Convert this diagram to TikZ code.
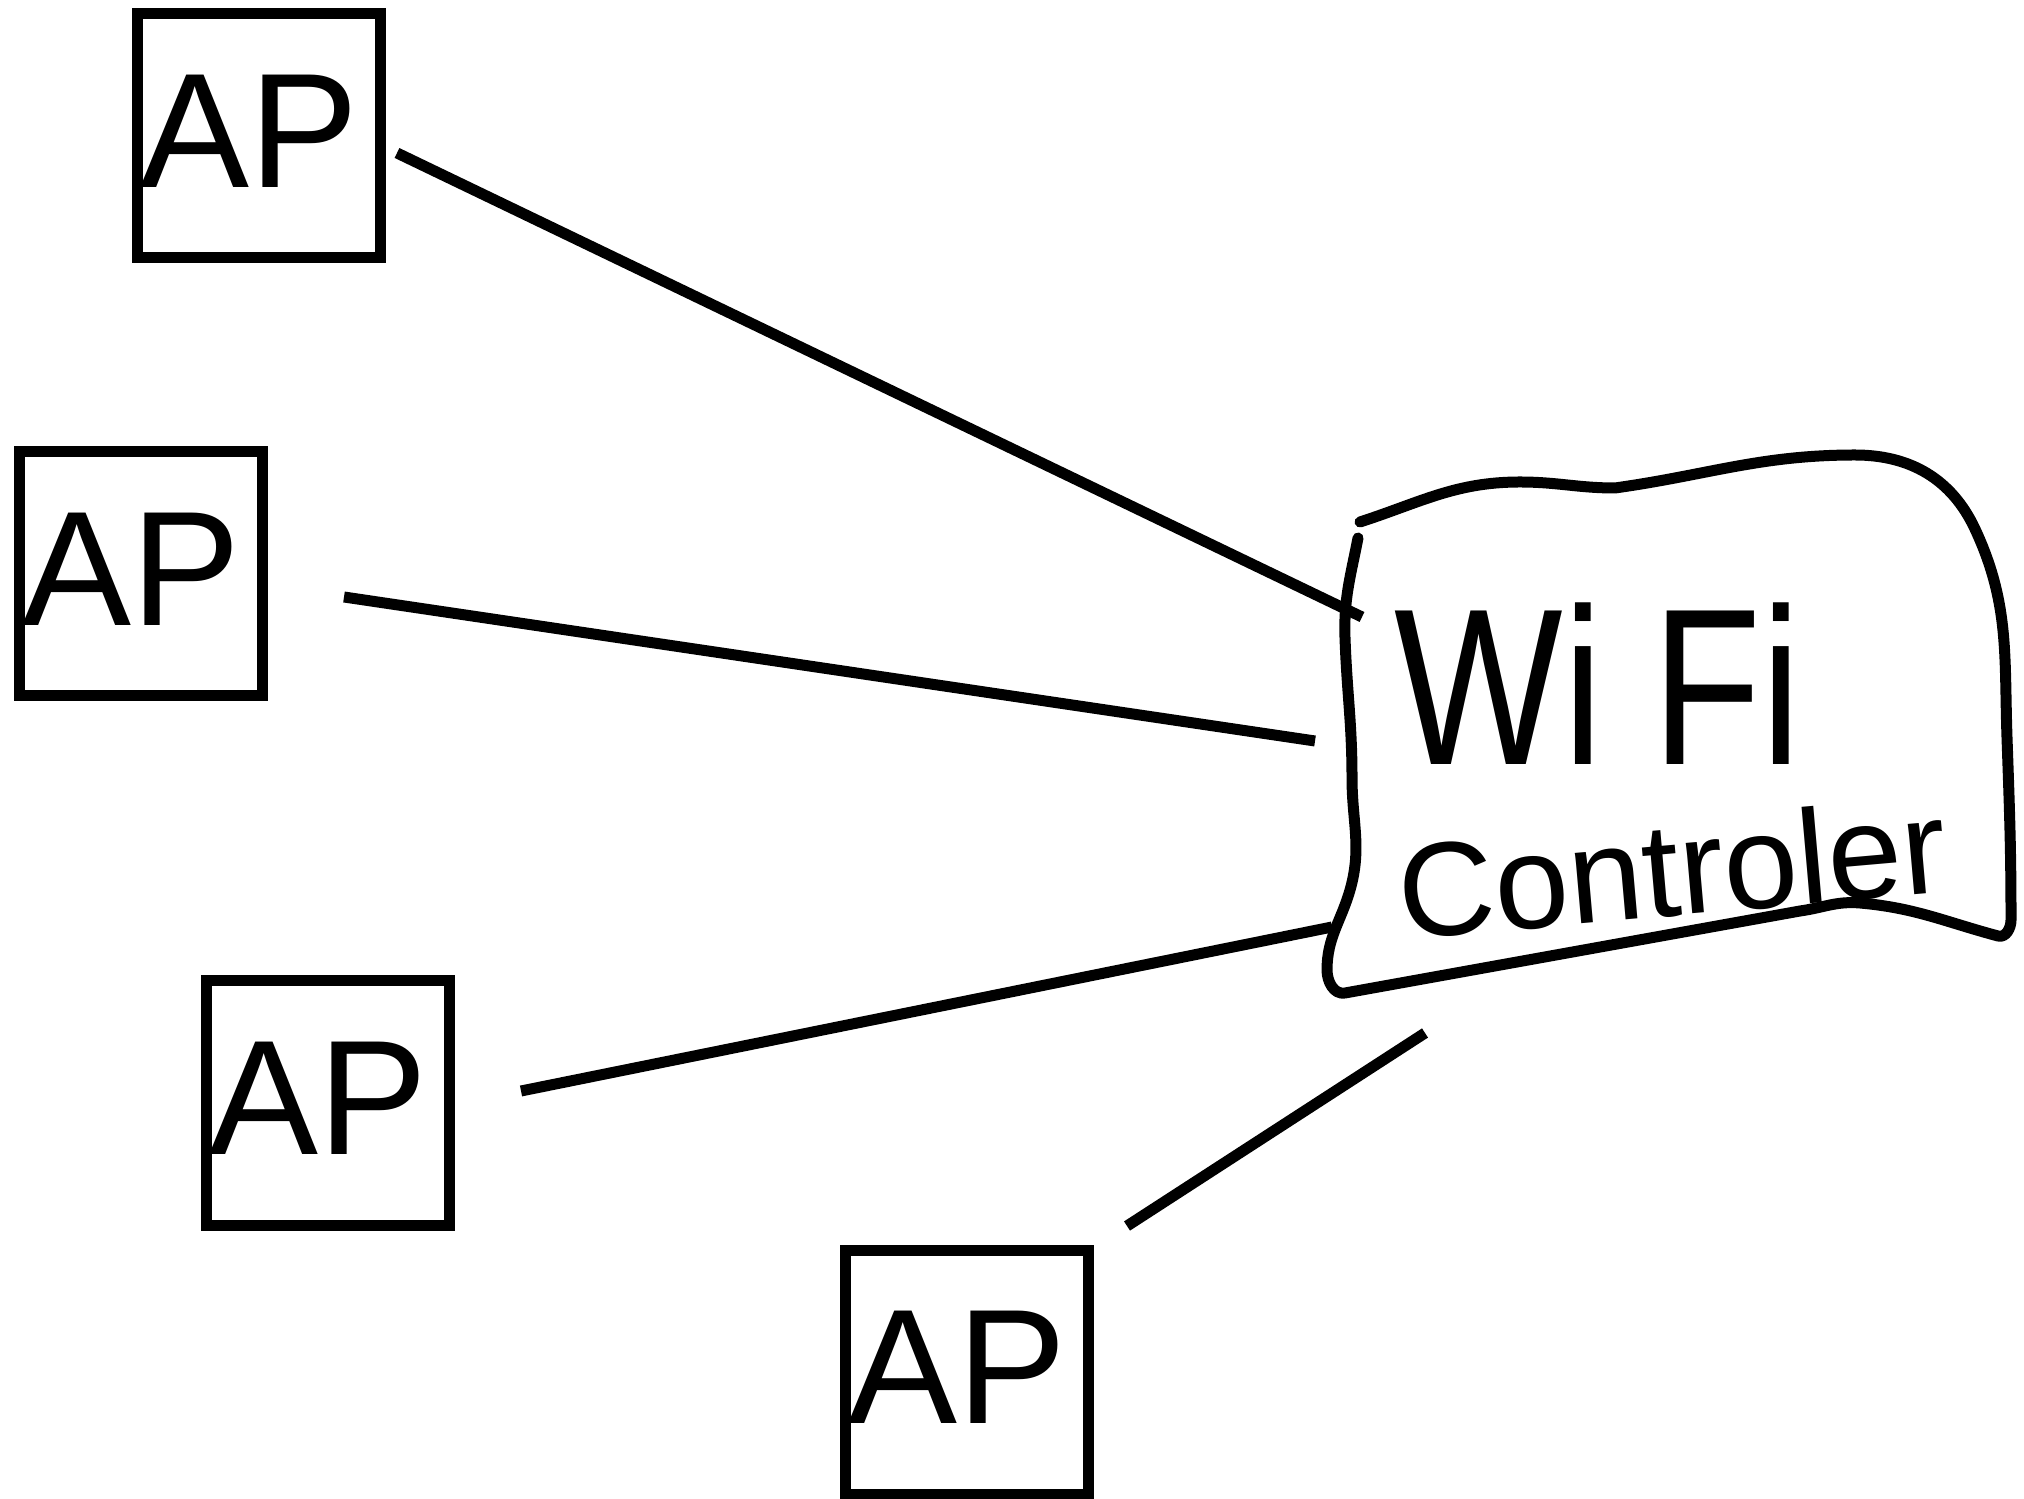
\documentclass[tikz,border=0pt]{standalone}
\usepackage{fontspec}
\setmainfont{Liberation Sans}
\usepackage{graphicx}
\begin{document}
\begin{tikzpicture}[line width=0.11cm,]
\tikzstyle{apbox} = [draw, rectangle, minimum width=2.43cm, minimum height=2.44cm, inner sep=0pt, text depth=0.1cm, execute at end node={\hspace*{0.19cm}}, font=\fontsize{46.5}{50}\selectfont]
\tikzstyle{link} = [draw, line cap=butt]
\tikzstyle{hand} = [inner sep=0pt]
%
\useasboundingbox (0,0) rectangle (20.24,14.98);
\node[apbox] (ap1) at (2.59,13.62) {AP};
\node[apbox] (ap2) at (1.41,9.24) {AP};
\node[apbox] (ap3) at (3.28,3.95) {AP};
\node[apbox] (ap4) at (9.665,1.255) {AP};
% controller
\draw[line cap=round, line join=round] (13.60,9.76) to[out=18,in=180] (15.20,10.16)
  to[out=0,in=180] (16.15,10.10) to[out=8,in=180] (18.55,10.43)
  to[out=0,in=115] (19.75,9.69) to[out=-65,in=92] (20.07,7.6)
  to[out=-88,in=90] (20.11,5.78) to[out=-90,in=-15] (19.98,5.62)
  to[out=165,in=-5] (18.6,5.95) to[out=175,in=8] (18.0,5.87) -- (13.45,5.05)
  to[out=190,in=-90] (13.27,5.28) to[out=90,in=-106] (13.50,6.08)
  to[out=74,in=-90] (13.52,7.2) to[out=90,in=-88] (13.45,8.6)
  to[out=92,in=-101] (13.58,9.60);
\node[hand, font=\fontsize{63.5}{70}\selectfont] (wifi) at (15.98,8.14) {\scalebox{0.8}[1]{Wi Fi}};
\node[hand, rotate=5, font=\fontsize{38}{42}\selectfont] (ctrl) at (16.72,6.30) {Controler};
%
\coordinate (s1) at (3.97,13.45);
\coordinate (c1) at (13.62,8.81);
\coordinate (s2) at (3.44,9.01);
\coordinate (c2) at (13.15,7.57);
\coordinate (s3) at (5.21,4.07);
\coordinate (c3) at (13.32,5.71);
\coordinate (s4) at (11.27,2.72);
\coordinate (c4) at (14.25,4.65);
\draw[link] (s1) -- (c1);
\draw[link] (s2) -- (c2);
\draw[link] (s3) -- (c3);
\draw[link] (s4) -- (c4);
\end{tikzpicture}
\end{document}
